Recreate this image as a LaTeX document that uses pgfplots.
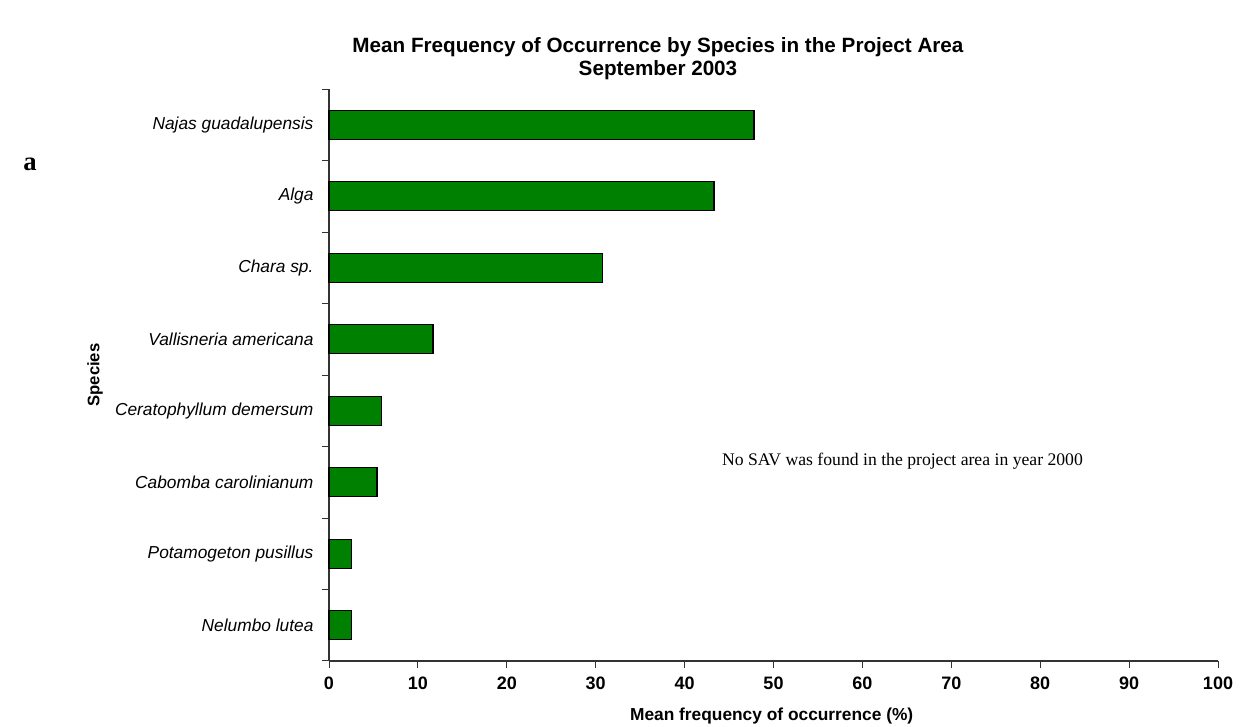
\documentclass[border=0pt]{standalone}
\usepackage{pgfplots}
\pgfplotsset{compat=1.18}
\usepackage{fontspec}
\setmainfont{Liberation Serif}
\setsansfont{Liberation Sans}
\definecolor{bargreen}{RGB}{0,128,0}
\begin{document}
\begin{tikzpicture}
\path[use as bounding box] (0,0) rectangle (744.6pt,436.2pt);
\begin{axis}[
  at={(197.4pt,39.6pt)}, anchor=south west,
  scale only axis, width=533.4pt, height=343.2pt,
  xmin=0, xmax=100, ymin=0.5, ymax=8.5,
  axis x line*=bottom, axis y line*=left,
  axis line style={line width=0.7pt, black!80},
  xtick={0,10,...,100},
  tick align=outside,
  major tick length=4.5pt,
  tick style={black!80, line width=0.6pt},
  ytick={1,...,8},
  yticklabels={Nelumbo lutea, Potamogeton pusillus, Cabomba carolinianum, Ceratophyllum demersum, Vallisneria americana, Chara sp., Alga, Najas guadalupensis},
  y tick style={draw=none},
  minor ytick={0.5,1.5,...,8.5},
  minor tick length=4.5pt,
  minor y tick style={draw=black!80, line width=0.6pt},
  xticklabel style={font=\sffamily\bfseries\fontsize{10.8}{12}\selectfont, yshift=-1.5pt},
  yticklabel style={font=\sffamily\itshape\fontsize{10.4}{12}\selectfont, xshift=-1.3pt},
  /pgf/number format/assume math mode=true,
  xbar, bar width=17.4pt,
  clip=false,
]
\addplot[fill=bargreen, draw=black, line width=0.8pt] coordinates {
  (2.55,1) (2.55,2) (5.4,3) (5.9,4) (11.7,5) (30.8,6) (43.3,7) (47.8,8)
};
\end{axis}
\node[font=\sffamily\bfseries\fontsize{12.4}{14}\selectfont, align=center] at (394.8pt,401pt) {Mean Frequency of Occurrence by Species in the Project Area\\September 2003};
\node[font=\rmfamily\bfseries\fontsize{16}{18}\selectfont] at (18pt,337.5pt) {a};
\node[font=\sffamily\bfseries\fontsize{10}{12}\selectfont, rotate=90] at (57pt,211.2pt) {Species};
\node[font=\sffamily\bfseries\fontsize{10.4}{12}\selectfont] at (463pt,6.6pt) {Mean frequency of occurrence (\%)};
\node[font=\rmfamily\fontsize{10.6}{12}\selectfont] at (541.5pt,159.6pt) {No SAV was found in the project area in year 2000};
\end{tikzpicture}
\end{document}
